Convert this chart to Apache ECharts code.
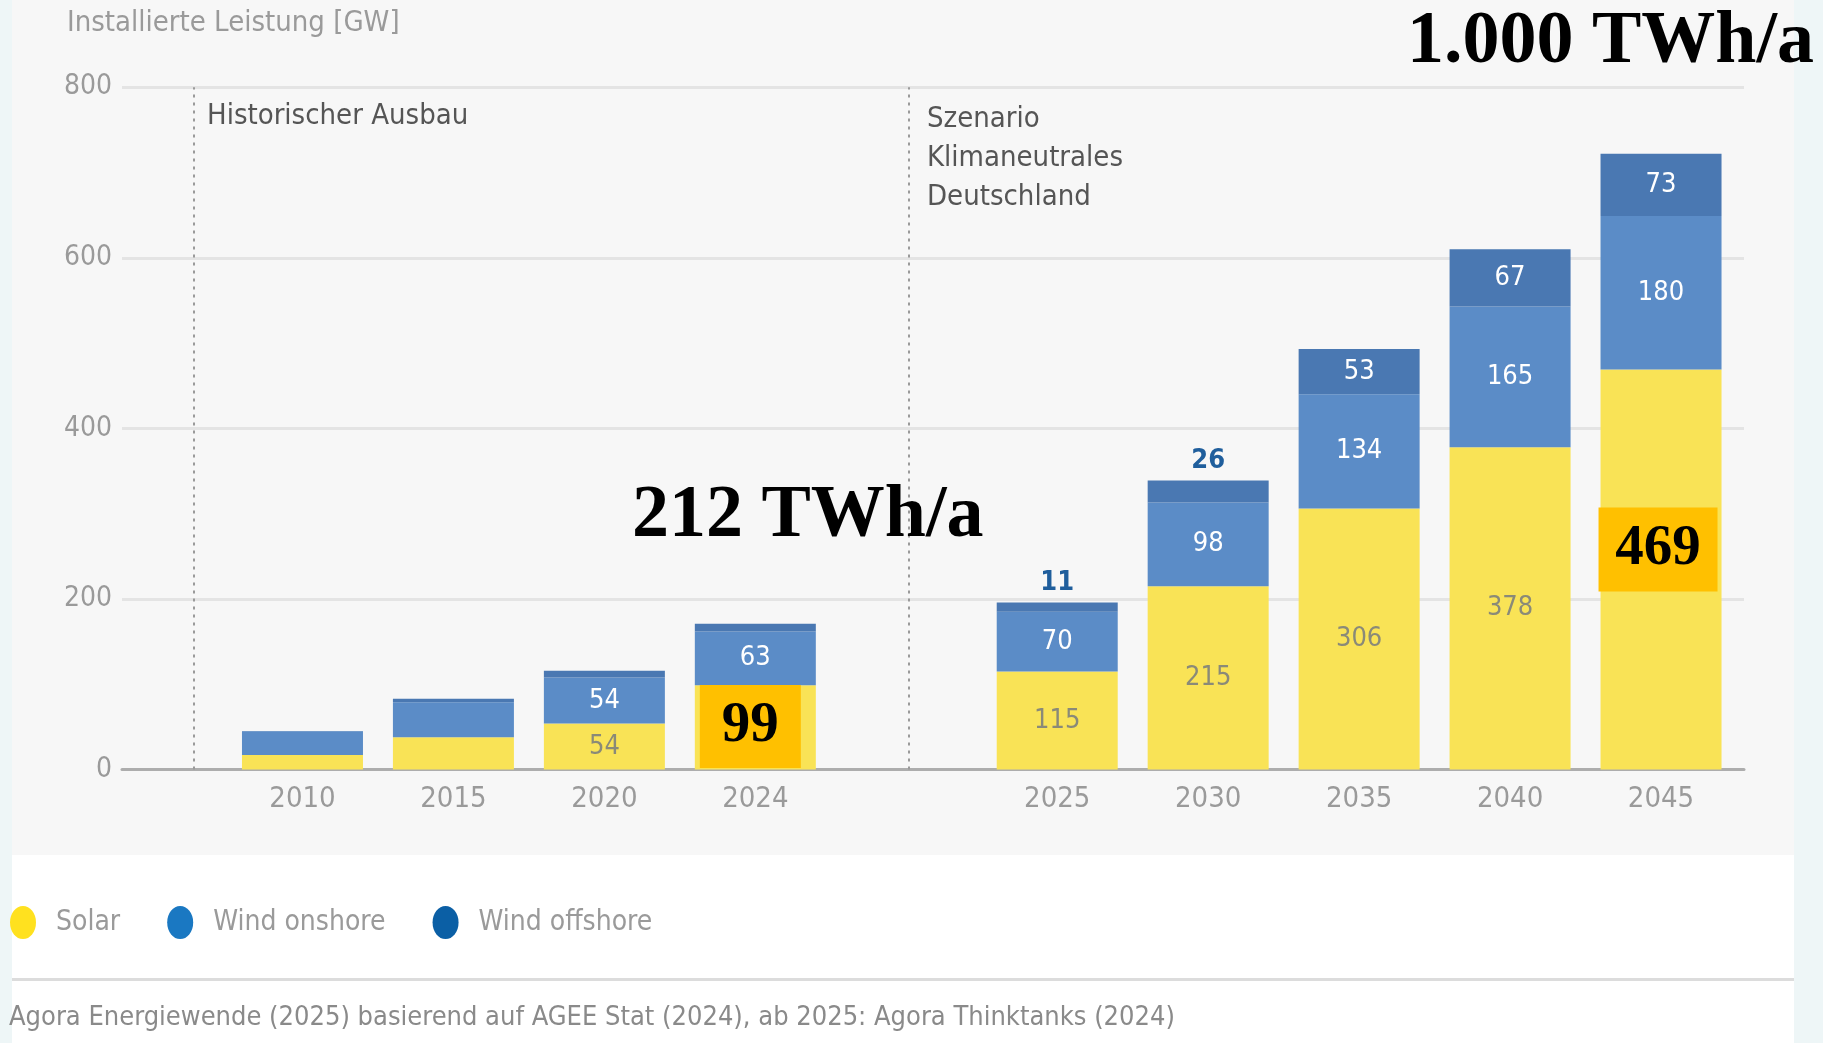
<!DOCTYPE html>
<html>
<head>
<meta charset="utf-8">
<script src="https://cdn.jsdelivr.net/npm/echarts@6/dist/echarts.min.js"></script>
<style>
  html, body { margin: 0; padding: 0; background: #EEF6F7; }
  #chart { width: 1823px; height: 1043px; }
</style>
</head>
<body>
<div id="chart"></div>
<script>
const SANS = '"Liberation Sans Narrow", "DejaVu Sans Condensed", "Roboto Condensed", "Noto Sans", sans-serif';
const SERIF = '"Liberation Serif", "DejaVu Serif", serif';

// installed capacity in GW; the empty slot separates history from scenario
const years = ['2010', '2015', '2020', '2024', '', '2025', '2030', '2035', '2040', '2045'];
const solar = [17, 38, 54, 99, null, 115, 215, 306, 378, 469];
const windOnshore = [28, 41, 54, 63, null, 70, 98, 134, 165, 180];
const windOffshore = [0.2, 4, 8, 9, null, 11, 26, 53, 67, 73];

const yTicks = [0, 200, 400, 600, 800];
// section dividers, in category-index units of the background grid
const dividers = [-0.72, 4.02];
const unlabeledYears = ['2010', '2015'];
const boxedSolarYears = ['2024', '2045'];

const COL = {
  solar: '#F9E356', onshore: '#5B8CC7', offshore: '#4A78B2',
  dotSolar: '#FFE11F', dotOnshore: '#1A78C2', dotOffshore: '#0B5FA5'
};
const ELLIPSE = 'path://M0,50A50,50,0,1,1,100,50A50,50,0,1,1,0,50Z';

const baseLabel = { fontFamily: SANS, fontSize: 27 };

function solarItems() {
  return solar.map((v, i) => {
    const y = years[i];
    if (v == null) return '-';
    if (boxedSolarYears.includes(y)) {
      const big = y === '2045';
      return {
        value: v,
        label: {
          show: true, position: 'inside',
          offset: big ? [-3, -20] : [-5, -1],
          backgroundColor: '#FFC000',
          width: big ? 119 : 101, height: big ? 84 : 83, lineHeight: big ? 84 : 83,
          align: 'center', verticalAlign: 'middle',
          fontFamily: SERIF, fontWeight: 'bold', fontSize: 57, color: '#000'
        }
      };
    }
    return { value: v, label: { show: !unlabeledYears.includes(y) } };
  });
}

function onshoreItems() {
  return windOnshore.map((v, i) => v == null ? '-' :
    { value: v, label: { show: !unlabeledYears.includes(years[i]) } });
}

function offshoreItems() {
  return windOffshore.map((v, i) => {
    const y = years[i];
    if (v == null) return '-';
    const scenario = Number(y) >= 2025;
    if (!scenario) return { value: v, label: { show: false } };
    if (v < 30) {
      return { value: v, label: { show: true, position: 'top', distance: 6, color: '#1F5E9C', fontWeight: 'bold' } };
    }
    return { value: v, label: { show: true, position: 'inside', color: '#fff' } };
  });
}

const chart = echarts.init(document.getElementById('chart'), null, { renderer: 'canvas' });

chart.setOption({
  backgroundColor: 'transparent',
  animation: false,
  graphic: [
    { type: 'rect', left: 12, top: 0, shape: { width: 1782, height: 855 }, style: { fill: '#F7F7F7' }, z: -10 },
    { type: 'rect', left: 12, top: 855, shape: { width: 1782, height: 188 }, style: { fill: '#FFFFFF' }, z: -10 },
    { type: 'rect', left: 12, top: 978, shape: { width: 1782, height: 3 }, style: { fill: '#DCDCDC' }, z: -9 }
  ],
  title: [
    { text: 'Installierte Leistung [GW]', left: 67, top: 9, padding: 0,
      textStyle: { fontFamily: SANS, fontSize: 29, fontWeight: 'normal', color: '#9A9A9A' } },
    { text: 'Historischer Ausbau', left: 207, top: 102, padding: 0,
      textStyle: { fontFamily: SANS, fontSize: 29, fontWeight: 'normal', color: '#555' } },
    { text: 'Szenario\nKlimaneutrales\nDeutschland', left: 927, top: 100, padding: 0,
      textStyle: { fontFamily: SANS, fontSize: 29, lineHeight: 39, fontWeight: 'normal', color: '#555' } },
    { text: '1.000 TWh/a', left: 1407, top: 6, padding: 0,
      textStyle: { fontFamily: SERIF, fontSize: 74, fontWeight: 'bold', color: '#000' } },
    { text: '212 TWh/a', left: 632, top: 480, padding: 0,
      textStyle: { fontFamily: SERIF, fontSize: 74, fontWeight: 'bold', color: '#000' } },
    { text: 'Agora Energiewende (2025) basierend auf AGEE Stat (2024), ab 2025: Agora Thinktanks (2024)',
      left: 9, top: 1004, padding: 0,
      textStyle: { fontFamily: SANS, fontSize: 27, fontWeight: 'normal', color: '#8A8A8A' } }
  ],
  legend: {
    left: 10, top: 906, padding: 0,
    icon: ELLIPSE, symbolKeepAspect: false,
    itemWidth: 26, itemHeight: 33, itemGap: 47,
    textStyle: { fontFamily: SANS, fontSize: 28, color: '#9A9A9A', padding: [0, 0, 0, 15] },
    data: [
      { name: 'Solar', itemStyle: { color: COL.dotSolar } },
      { name: 'Wind onshore', itemStyle: { color: COL.dotOnshore } },
      { name: 'Wind offshore', itemStyle: { color: COL.dotOffshore } }
    ]
  },
  grid: [
    { left: 122, right: 79, top: 87.2, bottom: 273.4 },
    { left: 227, right: 86.5, top: 87.2, bottom: 273.4 }
  ],
  xAxis: [
    { type: 'value', gridIndex: 0, min: -1.1944, max: 9.551,
      axisLine: { show: true, onZero: true, lineStyle: { color: '#ADADAD', width: 3 } },
      axisTick: { show: false }, axisLabel: { show: false }, splitLine: { show: false } },
    { type: 'category', gridIndex: 1, data: years,
      axisLine: { show: false }, axisTick: { show: false },
      axisLabel: { color: '#9A9A9A', fontFamily: SANS, fontSize: 29, margin: 15 } }
  ],
  yAxis: [
    { type: 'value', gridIndex: 0, min: yTicks[0], max: yTicks[yTicks.length - 1], interval: 200,
      axisLine: { show: false }, axisTick: { show: false },
      axisLabel: { color: '#9A9A9A', fontFamily: SANS, fontSize: 28, margin: 10 },
      splitLine: { lineStyle: { color: '#E4E4E4', width: 3 } } },
    { type: 'value', gridIndex: 1, min: yTicks[0], max: yTicks[yTicks.length - 1], interval: 200,
      show: false, splitLine: { show: false } }
  ],
  series: [
    {
      type: 'line', xAxisIndex: 0, yAxisIndex: 0, data: [], silent: true,
      markLine: {
        silent: true, symbol: 'none', label: { show: false },
        lineStyle: { color: '#9A9A9A', type: [3, 5], width: 2 },
        data: dividers.map((x) => ({ xAxis: x }))
      }
    },
    {
      name: 'Solar', type: 'bar', stack: 'cap', xAxisIndex: 1, yAxisIndex: 1,
      barWidth: 121, itemStyle: { color: COL.solar },
      label: { ...baseLabel, position: 'inside', color: '#8A8A78' },
      data: solarItems()
    },
    {
      name: 'Wind onshore', type: 'bar', stack: 'cap', xAxisIndex: 1, yAxisIndex: 1,
      barWidth: 121, itemStyle: { color: COL.onshore },
      label: { ...baseLabel, position: 'inside', color: '#FFFFFF' },
      data: onshoreItems()
    },
    {
      name: 'Wind offshore', type: 'bar', stack: 'cap', xAxisIndex: 1, yAxisIndex: 1,
      barWidth: 121, itemStyle: { color: COL.offshore },
      label: { ...baseLabel, position: 'inside', color: '#FFFFFF' },
      data: offshoreItems()
    }
  ]
});
</script>
</body>
</html>
